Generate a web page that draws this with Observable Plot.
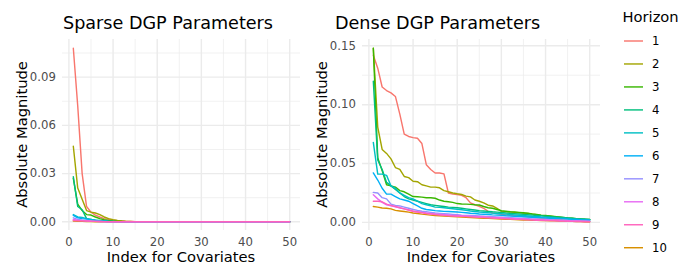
<!DOCTYPE html>
<html><head><meta charset="utf-8">
<script src="https://cdn.jsdelivr.net/npm/d3@7"></script>
<script src="https://cdn.jsdelivr.net/npm/@observablehq/plot@0.6"></script>
<style>
body{margin:0;background:#fff;}
#chart{position:relative;width:700px;height:280px;font-family:"DejaVu Sans",sans-serif;overflow:hidden;}
#chart svg{position:absolute;top:0;}
</style></head><body><div id="chart"></div>
<script>
const horizons = ["1","2","3","4","5","6","7","8","9","10"];
const palette = ["#F8766D","#A3A500","#39B600","#00BF7D","#00BFC4","#00B0F6","#9590FF","#E76BF3","#FF62BC","#D89000"];
const drawOrder = ["1","10","2","3","4","5","6","7","8","9"];
const index = [1,2,3,4,5,6,7,8,9,10,11,12,13,14,15,16,17,18,19,20,21,22,23,24,25,26,27,28,29,30,31,32,33,34,35,36,37,38,39,40,41,42,43,44,45,46,47,48,49,50];
const xMajor = [0,10,20,30,40,50];
const xMinor = [5,15,25,35,45];
const sparseYMajor = [0,0.03,0.06,0.09];
const sparseYMinor = [0.015,0.045,0.075,0.105];
const denseYMajor = [0,0.05,0.10,0.15];
const denseYMinor = [0.025,0.075,0.125];
const titles = ["Sparse DGP Parameters","Dense DGP Parameters"];
const xTitle = "Index for Covariates";
const yTitle = "Absolute Magnitude";
const legendTitle = "Horizon";

// Sparse DGP series, horizons 1..10
const sparse1 = [0.108,0.072,0.030,0.0095,0.006,0.0042,0.003,0.002,0.0015,0.001,0.0007,0.0005,0.0003,0.0002,0.0001,0,0,0,0,0,0,0,0,0,0,0,0,0,0,0,0,0,0,0,0,0,0,0,0,0,0,0,0,0,0,0,0,0,0,0];
const sparse2 = [0.047,0.021,0.014,0.007,0.006,0.0055,0.0045,0.003,0.002,0.0013,0.0008,0.0005,0.0003,0.0002,0.0001,0,0,0,0,0,0,0,0,0,0,0,0,0,0,0,0,0,0,0,0,0,0,0,0,0,0,0,0,0,0,0,0,0,0,0];
const sparse3 = [0.027,0.011,0.007,0.0045,0.0042,0.003,0.002,0.0013,0.0008,0.0005,0.0003,0.0002,0.0001,0,0,0,0,0,0,0,0,0,0,0,0,0,0,0,0,0,0,0,0,0,0,0,0,0,0,0,0,0,0,0,0,0,0,0,0,0];
const sparse4 = [0.028,0.0095,0.0075,0.002,0.0015,0.001,0.0008,0.0005,0.0003,0.0002,0.0001,0,0,0,0,0,0,0,0,0,0,0,0,0,0,0,0,0,0,0,0,0,0,0,0,0,0,0,0,0,0,0,0,0,0,0,0,0,0,0];
const sparse5 = [0.0045,0.003,0.0027,0.002,0.0015,0.001,0.0007,0.0005,0.0003,0.0002,0.0001,0,0,0,0,0,0,0,0,0,0,0,0,0,0,0,0,0,0,0,0,0,0,0,0,0,0,0,0,0,0,0,0,0,0,0,0,0,0,0];
const sparse6 = [0.004,0.0025,0.002,0.0017,0.0012,0.0009,0.0006,0.0004,0.0002,0.0001,0,0,0,0,0,0,0,0,0,0,0,0,0,0,0,0,0,0,0,0,0,0,0,0,0,0,0,0,0,0,0,0,0,0,0,0,0,0,0,0];
const sparse7 = [0.0025,0.0015,0.001,0.0008,0.0005,0.0003,0.0002,0.0001,0,0,0,0,0,0,0,0,0,0,0,0,0,0,0,0,0,0,0,0,0,0,0,0,0,0,0,0,0,0,0,0,0,0,0,0,0,0,0,0,0,0];
const sparse8 = [0.0015,0.001,0.0008,0.0006,0.0004,0.0003,0.0002,0.0001,0,0,0,0,0,0,0,0,0,0,0,0,0,0,0,0,0,0,0,0,0,0,0,0,0,0,0,0,0,0,0,0,0,0,0,0,0,0,0,0,0,0];
const sparse9 = [0.0008,0.0007,0.0006,0.0005,0.0004,0.0003,0.0002,0.0001,0,0,0,0,0,0,0,0,0,0,0,0,0,0,0,0,0,0,0,0,0,0,0,0,0,0,0,0,0,0,0,0,0,0,0,0,0,0,0,0,0,0];
const sparse10 = [0.0005,0.0004,0.0003,0.0002,0.0001,0,0,0,0,0,0,0,0,0,0,0,0,0,0,0,0,0,0,0,0,0,0,0,0,0,0,0,0,0,0,0,0,0,0,0,0,0,0,0,0,0,0,0,0,0];

// Dense DGP series, horizons 1..10
const dense1 = [0.142,0.131,0.115,0.112,0.110,0.107,0.092,0.075,0.073,0.072,0.0715,0.067,0.049,0.045,0.042,0.042,0.0412,0.025,0.024,0.0237,0.023,0.021,0.0166,0.015,0.0137,0.012,0.0094,0.008,0.0075,0.0068,0.0063,0.006,0.0057,0.0054,0.005,0.0047,0.0044,0.004,0.0037,0.0034,0.003,0.0027,0.0024,0.0021,0.0018,0.0015,0.0012,0.001,0.0008,0.0006];
const dense2 = [0.148,0.081,0.062,0.0586,0.054,0.0466,0.045,0.039,0.038,0.035,0.0346,0.032,0.031,0.030,0.030,0.0294,0.027,0.026,0.025,0.0243,0.0237,0.0223,0.0217,0.019,0.018,0.0166,0.0146,0.014,0.012,0.0094,0.009,0.0088,0.0085,0.0082,0.0078,0.0075,0.007,0.0065,0.006,0.0056,0.0052,0.0048,0.0044,0.004,0.0036,0.0033,0.003,0.0027,0.0025,0.0022];
const dense3 = [0.148,0.055,0.044,0.032,0.031,0.030,0.027,0.026,0.024,0.022,0.0218,0.0215,0.021,0.021,0.0205,0.019,0.018,0.0175,0.017,0.016,0.0157,0.0155,0.0153,0.015,0.0148,0.0135,0.0125,0.012,0.011,0.010,0.0095,0.009,0.0088,0.0085,0.0082,0.0078,0.0072,0.0068,0.0062,0.0058,0.0054,0.005,0.0046,0.0042,0.0038,0.0035,0.0032,0.003,0.0027,0.0025];
const dense4 = [0.120,0.053,0.045,0.034,0.031,0.028,0.025,0.022,0.020,0.019,0.018,0.017,0.016,0.015,0.0145,0.014,0.0135,0.013,0.0128,0.0125,0.012,0.0115,0.011,0.0105,0.010,0.0097,0.0094,0.009,0.0087,0.0084,0.008,0.0077,0.0074,0.0071,0.0068,0.0065,0.0062,0.0059,0.0056,0.0053,0.005,0.0047,0.0044,0.0041,0.0038,0.0035,0.0032,0.003,0.0028,0.0026];
const dense5 = [0.068,0.041,0.041,0.040,0.031,0.029,0.025,0.023,0.021,0.020,0.018,0.016,0.015,0.014,0.013,0.0128,0.0125,0.012,0.0116,0.0112,0.0108,0.0103,0.0097,0.0092,0.0088,0.0085,0.0082,0.0079,0.0076,0.0073,0.007,0.0067,0.0064,0.0061,0.0058,0.0055,0.0052,0.005,0.0047,0.0045,0.0042,0.004,0.0037,0.0035,0.0033,0.003,0.0028,0.0026,0.0024,0.0022];
const dense6 = [0.042,0.036,0.029,0.024,0.024,0.022,0.020,0.019,0.018,0.016,0.014,0.012,0.011,0.0105,0.010,0.0097,0.0094,0.0092,0.009,0.0088,0.0085,0.0082,0.0078,0.0075,0.0072,0.007,0.0067,0.0064,0.0062,0.006,0.0057,0.0055,0.0053,0.005,0.0048,0.0046,0.0044,0.0042,0.004,0.0038,0.0036,0.0034,0.0032,0.003,0.0028,0.0026,0.0024,0.0022,0.002,0.0018];
const dense7 = [0.0255,0.025,0.021,0.020,0.0155,0.0145,0.014,0.013,0.012,0.011,0.0102,0.0095,0.009,0.0085,0.008,0.0077,0.0074,0.0071,0.0068,0.0065,0.0062,0.006,0.0058,0.0056,0.0054,0.0052,0.005,0.0048,0.0046,0.0044,0.0042,0.004,0.0038,0.0036,0.0034,0.0032,0.003,0.0028,0.0026,0.0024,0.0022,0.002,0.0019,0.0018,0.0016,0.0015,0.0014,0.0012,0.0011,0.001];
const dense8 = [0.0235,0.020,0.017,0.015,0.014,0.0132,0.0123,0.0115,0.0105,0.0095,0.009,0.0085,0.008,0.0076,0.0072,0.0069,0.0066,0.0063,0.006,0.0058,0.0056,0.0054,0.0052,0.005,0.0048,0.0046,0.0044,0.0042,0.004,0.0038,0.0036,0.0034,0.0032,0.003,0.0029,0.0027,0.0026,0.0024,0.0023,0.0021,0.002,0.0018,0.0017,0.0015,0.0014,0.0013,0.0012,0.0011,0.001,0.0009];
const dense9 = [0.018,0.018,0.0175,0.0155,0.0145,0.0135,0.0125,0.0115,0.0105,0.0095,0.0088,0.0082,0.0076,0.0071,0.0067,0.0063,0.006,0.0057,0.0055,0.0053,0.0051,0.0049,0.0047,0.0045,0.0043,0.0041,0.0039,0.0037,0.0035,0.0033,0.0031,0.0029,0.0027,0.0026,0.0024,0.0022,0.0021,0.0019,0.0018,0.0016,0.0015,0.0014,0.0012,0.0011,0.001,0.0009,0.0008,0.0007,0.0006,0.0005];
const dense10 = [0.0135,0.013,0.0122,0.012,0.0115,0.0102,0.0097,0.0092,0.0087,0.008,0.0075,0.007,0.0066,0.0062,0.0058,0.0056,0.0054,0.0052,0.005,0.0048,0.0046,0.0044,0.0042,0.004,0.0038,0.0036,0.0034,0.0032,0.003,0.0029,0.0027,0.0026,0.0024,0.0023,0.0021,0.002,0.0019,0.0017,0.0016,0.0015,0.0014,0.0013,0.0012,0.0011,0.001,0.0009,0.0008,0.0007,0.0006,0.0005];

const sparse = [sparse1,sparse2,sparse3,sparse4,sparse5,sparse6,sparse7,sparse8,sparse9,sparse10];
const dense = [dense1,dense2,dense3,dense4,dense5,dense6,dense7,dense8,dense9,dense10];

function rowsFor(series) {
  const rows = [];
  for (const h of drawOrder) {
    const vals = series[horizons.indexOf(h)];
    vals.forEach((v, j) => rows.push({x: index[j], y: v, h}));
  }
  return rows;
}

const W = 300, H = 280, ML = 62, MT = 39, MB = 50;
const LW = 1.42;

function panel(series, yMajor, yMinor) {
  const rows = rowsFor(series);
  const [y0, y1] = d3.extent(rows, d => d.y);
  const yp = (y1 - y0) * 0.05;
  const [x0, x1] = d3.extent(rows, d => d.x);
  const xp = (x1 - x0) * 0.05;
  return Plot.plot({
    width: W, height: H,
    marginLeft: ML, marginRight: 0, marginTop: MT, marginBottom: MB,
    style: {fontFamily: "DejaVu Sans", fontSize: "11.7px", color: "#4D4D4D", background: "transparent", overflow: "visible"},
    x: {domain: [x0 - xp, x1 + xp]},
    y: {domain: [y0 - yp, y1 + yp]},
    color: {domain: horizons, range: palette},
    marks: [
      Plot.ruleX(xMinor, {stroke: "#EBEBEB", strokeWidth: LW / 2}),
      Plot.ruleY(yMinor, {stroke: "#EBEBEB", strokeWidth: LW / 2}),
      Plot.ruleX(xMajor, {stroke: "#EBEBEB", strokeWidth: LW}),
      Plot.ruleY(yMajor, {stroke: "#EBEBEB", strokeWidth: LW}),
      Plot.axisX({ticks: xMajor, tickSize: 0, tickPadding: 7, label: null, tickFormat: d => String(d), color: "#4D4D4D"}),
      Plot.axisY({ticks: yMajor, tickSize: 0, tickPadding: 6.6, label: null, tickFormat: d3.format(".2f"), color: "#4D4D4D"}),
      Plot.line(rows, {x: "x", y: "y", z: "h", stroke: "h", strokeWidth: LW})
    ]
  });
}

const chart = document.getElementById("chart");
const p1 = panel(sparse, sparseYMajor, sparseYMinor);
p1.style.left = "0px";
chart.appendChild(p1);
const p2 = panel(dense, denseYMajor, denseYMinor);
p2.style.left = "300px";
chart.appendChild(p2);

// text overlay: titles, axis titles, legend
const svg = d3.select(chart).append("svg")
  .attr("width", 700).attr("height", 280)
  .style("left", "0px")
  .attr("font-family", "DejaVu Sans");

const titleX = [63, 335];
titles.forEach((t, k) => {
  svg.append("text").attr("x", titleX[k]).attr("y", 28.5)
    .attr("font-size", "17.6px").attr("fill", "#000").text(t);
  const off = k * 300;
  svg.append("text").attr("x", off + ML + (W - ML) / 2).attr("y", 262.3)
    .attr("text-anchor", "middle").attr("font-size", "14.7px").attr("fill", "#000").text(xTitle);
  svg.append("text")
    .attr("transform", `translate(${off + 26.5},${MT + (H - MT - MB) / 2}) rotate(-90)`)
    .attr("text-anchor", "middle").attr("font-size", "14.7px").attr("fill", "#000").text(yTitle);
});

svg.append("text").attr("x", 622.5).attr("y", 22).attr("font-size", "14.7px").attr("fill", "#000").text(legendTitle);
horizons.forEach((h, k) => {
  const cy = 41 + k * 22.97;
  svg.append("line").attr("x1", 624).attr("x2", 643).attr("y1", cy).attr("y2", cy)
    .attr("stroke", palette[k]).attr("stroke-width", LW);
  svg.append("text").attr("x", 652).attr("y", cy + 4.2)
    .attr("font-size", "11.7px").attr("fill", "#000").text(h);
});
</script>
</body></html>
